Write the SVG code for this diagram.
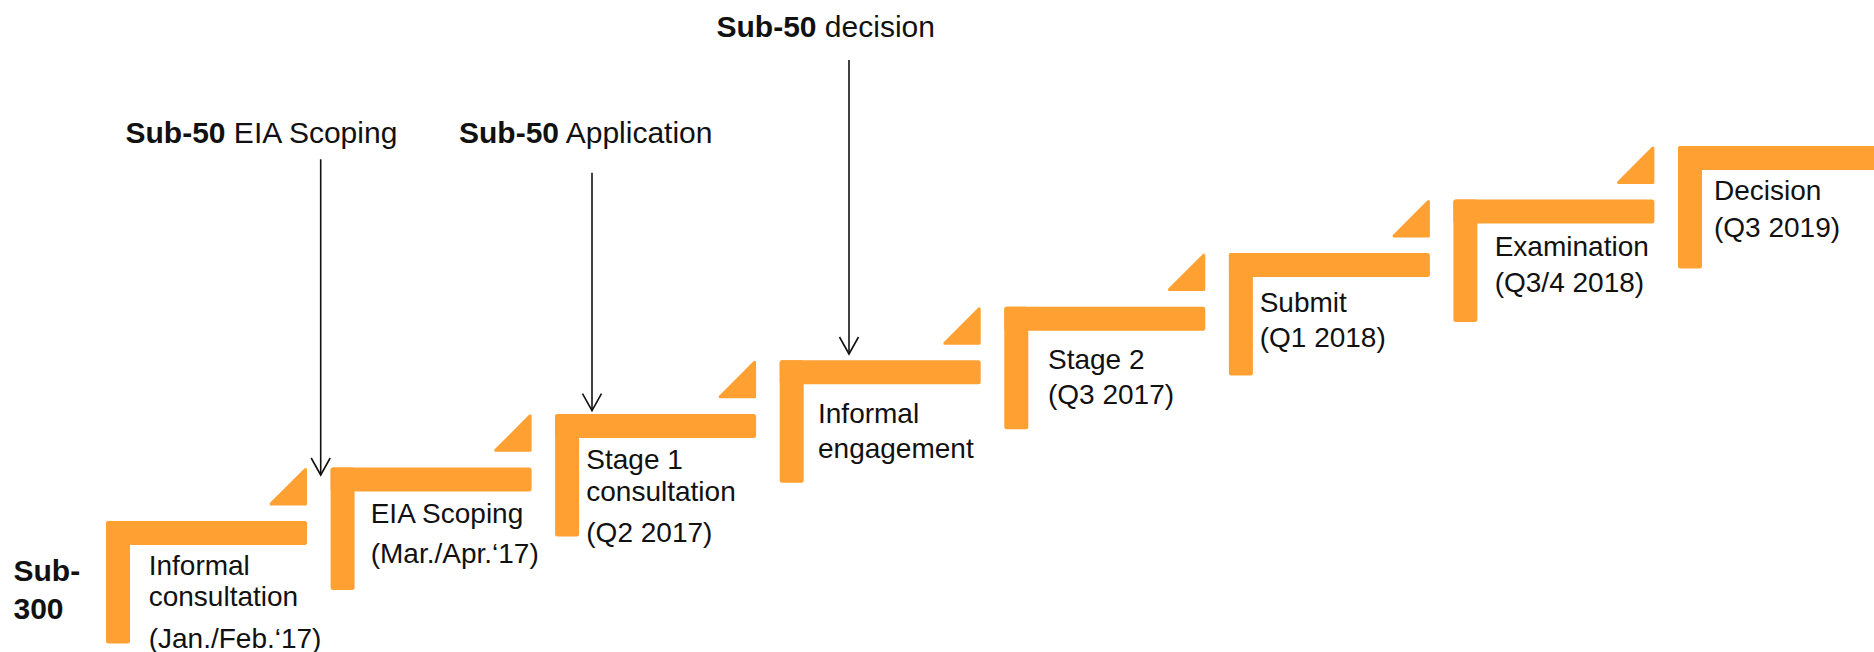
<svg xmlns="http://www.w3.org/2000/svg" width="1874" height="652" viewBox="0 0 1874 652">
<style>
.bar{fill:#FFA033}
.tri{fill:#FFA033;stroke:#FFA033;stroke-width:3;stroke-linejoin:round}
.lbl{font-family:"Liberation Sans",Arial,sans-serif;font-size:28px;fill:#111}
.top{font-family:"Liberation Sans",Arial,sans-serif;font-size:30px;fill:#111}
.b{font-weight:bold}
.con{stroke:#111;stroke-width:1.6;fill:none}
</style>
<defs>
<marker id="vh" markerUnits="userSpaceOnUse" markerWidth="40" markerHeight="40" refX="0" refY="0" orient="auto" overflow="visible">
<path d="M-17,-9.5 L0,0 L-17,9.5" fill="none" stroke="#111" stroke-width="1.6"/>
</marker>
</defs>
<rect width="1874" height="652" fill="#fff"/>

<g id="sub300">
<text class="top b" x="13.5" y="580.7">Sub-</text>
<text class="top b" x="13.5" y="619.3">300</text>
</g>

<g id="step1" transform="translate(106,521)">
<rect class="bar" x="0" y="0" width="201" height="24" rx="2.5"/>
<rect class="bar" x="0" y="0" width="24" height="122.5" rx="2.5"/>
<polygon class="tri" points="199.5,-51.5 199.5,-17.1 165.1,-17.1"/>
<text class="lbl" x="42.7" y="54">Informal</text>
<text class="lbl" x="42.7" y="85">consultation</text>
<text class="lbl" x="42.7" y="127">(Jan./Feb.‘17)</text>
</g>

<g id="step2" transform="translate(330.6,467.4)">
<rect class="bar" x="0" y="0" width="201" height="24" rx="2.5"/>
<rect class="bar" x="0" y="0" width="24" height="122.5" rx="2.5"/>
<polygon class="tri" points="199.5,-51.5 199.5,-17.1 165.1,-17.1"/>
<text class="lbl" x="40.1" y="55.6">EIA Scoping</text>
<text class="lbl" x="40.1" y="95.6">(Mar./Apr.‘17)</text>
</g>

<g id="step3" transform="translate(555.1,413.9)">
<rect class="bar" x="0" y="0" width="201" height="24" rx="2.5"/>
<rect class="bar" x="0" y="0" width="24" height="122.5" rx="2.5"/>
<polygon class="tri" points="199.5,-51.5 199.5,-17.1 165.1,-17.1"/>
<text class="lbl" x="31.2" y="55.1">Stage 1</text>
<text class="lbl" x="31.2" y="86.8">consultation</text>
<text class="lbl" x="31.2" y="127.8">(Q2 2017)</text>
</g>

<g id="step4" transform="translate(779.7,360.3)">
<rect class="bar" x="0" y="0" width="201" height="24" rx="2.5"/>
<rect class="bar" x="0" y="0" width="24" height="122.5" rx="2.5"/>
<polygon class="tri" points="199.5,-51.5 199.5,-17.1 165.1,-17.1"/>
<text class="lbl" x="38.3" y="63">Informal</text>
<text class="lbl" x="38.3" y="98">engagement</text>
</g>

<g id="step5" transform="translate(1004.3,306.7)">
<rect class="bar" x="0" y="0" width="201" height="24" rx="2.5"/>
<rect class="bar" x="0" y="0" width="24" height="122.5" rx="2.5"/>
<polygon class="tri" points="199.5,-51.5 199.5,-17.1 165.1,-17.1"/>
<text class="lbl" x="43.7" y="62.3">Stage 2</text>
<text class="lbl" x="43.7" y="97.3">(Q3 2017)</text>
</g>

<g id="step6" transform="translate(1228.9,253.1)">
<rect class="bar" x="0" y="0" width="201" height="24" rx="2.5"/>
<rect class="bar" x="0" y="0" width="24" height="122.5" rx="2.5"/>
<polygon class="tri" points="199.5,-51.5 199.5,-17.1 165.1,-17.1"/>
<text class="lbl" x="30.8" y="58.6">Submit</text>
<text class="lbl" x="30.8" y="93.6">(Q1 2018)</text>
</g>

<g id="step7" transform="translate(1453.4,199.6)">
<rect class="bar" x="0" y="0" width="201" height="24" rx="2.5"/>
<rect class="bar" x="0" y="0" width="24" height="122.5" rx="2.5"/>
<polygon class="tri" points="199.5,-51.5 199.5,-17.1 165.1,-17.1"/>
<text class="lbl" x="41.3" y="56.4">Examination</text>
<text class="lbl" x="41.3" y="92.1">(Q3/4 2018)</text>
</g>

<g id="step8" transform="translate(1678,146)">
<rect class="bar" x="0" y="0" width="210" height="24" rx="2.5"/>
<rect class="bar" x="0" y="0" width="24" height="122.5" rx="2.5"/>
<text class="lbl" x="36" y="54">Decision</text>
<text class="lbl" x="36" y="90.7">(Q3 2019)</text>
</g>

<g id="milestone-eia">
<text class="top" x="125.5" y="143.3"><tspan class="b">Sub-50</tspan> EIA Scoping</text>
</g>
<g id="milestone-application">
<text class="top" x="459" y="143.3"><tspan class="b">Sub-50</tspan> Application</text>
</g>
<g id="milestone-decision">
<text class="top" x="716.5" y="37.3"><tspan class="b">Sub-50</tspan> decision</text>
</g>

<g id="connectors">
<line class="con" x1="320.7" y1="159.3" x2="320.7" y2="475" marker-end="url(#vh)"/>
<line class="con" x1="592" y1="172.7" x2="592" y2="410.7" marker-end="url(#vh)"/>
<line class="con" x1="849" y1="60" x2="849" y2="354" marker-end="url(#vh)"/>
</g>
</svg>
